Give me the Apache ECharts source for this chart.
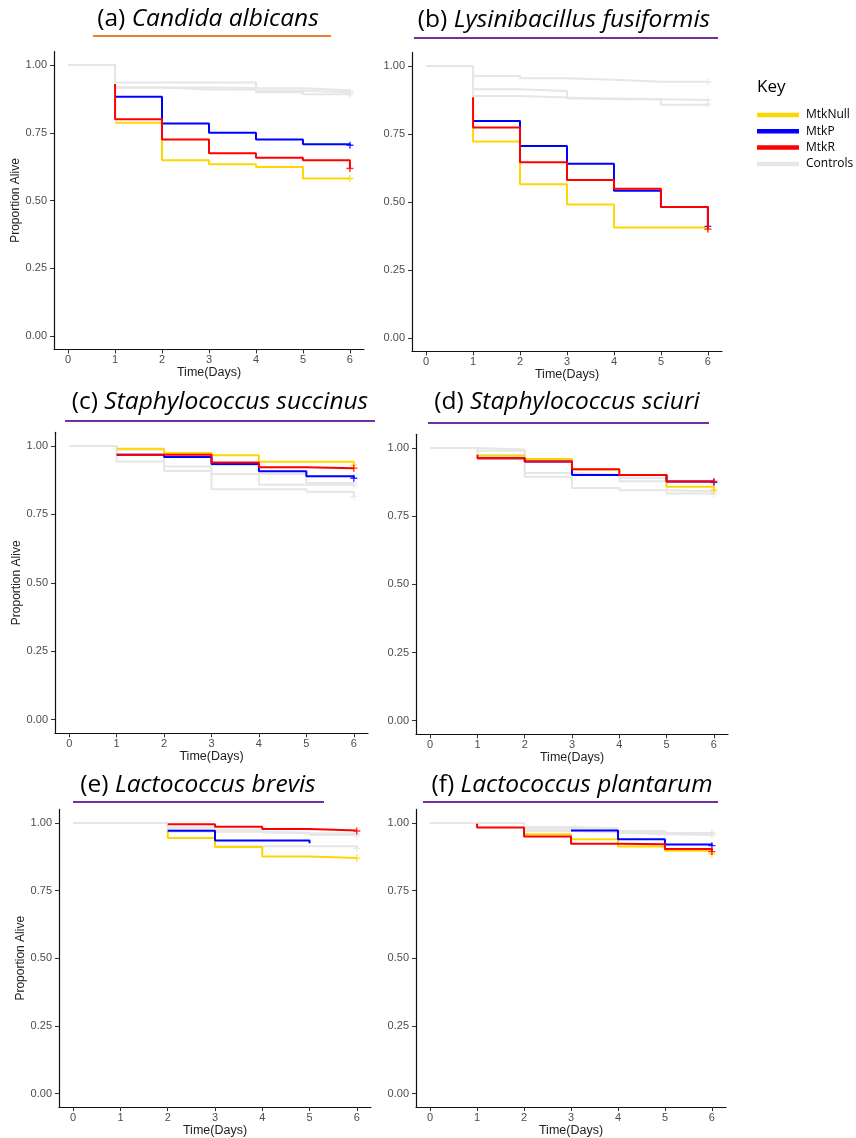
<!DOCTYPE html>
<html>
<head>
<meta charset="utf-8">
<script src="https://cdn.jsdelivr.net/npm/echarts@6/dist/echarts.min.js"></script>
<style>
html,body{margin:0;padding:0;background:#fff;}
#chart{width:856px;height:1138px;}
</style>
</head>
<body>
<div id="chart"></div>
<script>
// ---- tick labels ----
const X_TICKS = [0, 1, 2, 3, 4, 5, 6];
const Y_TICKS = [0, 0.25, 0.5, 0.75, 1];
const SERIES_NAMES = ['MtkNull', 'MtkP', 'MtkR', 'Controls'];

// ---- (a) Candida albicans : [time, proportion alive] ----
const A_NULL = [[1,0.787],[2,0.649],[3,0.634],[4,0.624],[5,0.581],[6,0.581]];
const A_P    = [[1,0.883],[2,0.784],[3,0.750],[4,0.725],[5,0.708],[6,0.704]];
const A_R    = [[1,0.930],[1,0.800],[2,0.725],[3,0.674],[4,0.658],[5,0.649],[6,0.618]];
const A_C1   = [[0,1],[1,0.936],[2,0.936],[3,0.936],[4,0.914],[5,0.907],[6,0.905]];
const A_C2   = [[0,1],[1,0.917],[2,0.910],[3,0.910],[4,0.900],[5,0.892],[6,0.890]];
const A_C3   = [[0,1],[1,0.917],[2,0.917],[3,0.915],[4,0.905],[5,0.900],[6,0.898]];

// ---- (b) Lysinibacillus fusiformis ----
const B_NULL = [[1,0.774],[1,0.722],[2,0.565],[3,0.490],[4,0.406],[5,0.406],[6,0.400]];
const B_P    = [[1,0.798],[2,0.706],[3,0.640],[4,0.541],[5,0.481],[6,0.410]];
const B_R    = [[1,0.885],[1,0.774],[2,0.646],[3,0.581],[4,0.548],[5,0.481],[6,0.400]];
const B_C1   = [[0,1],[1,0.963],[2,0.955],[3,0.949],[4,0.942],[5,0.942],[6,0.942]];
const B_C2   = [[0,1],[1,0.914],[2,0.908],[3,0.880],[4,0.878],[5,0.875],[6,0.875]];
const B_C3   = [[0,1],[1,0.890],[2,0.884],[3,0.878],[4,0.878],[5,0.857],[6,0.860]];

// ---- (c) Staphylococcus succinus ----
const C_NULL = [[1,0.990],[2,0.974],[3,0.966],[4,0.942],[5,0.942],[6,0.930]];
const C_P    = [[1,0.968],[2,0.960],[3,0.934],[4,0.908],[5,0.889],[6,0.882]];
const C_R    = [[1,0.968],[2,0.968],[3,0.940],[4,0.922],[5,0.919],[6,0.919]];
const C_C1   = [[0,1],[1,0.943],[2,0.925],[3,0.898],[4,0.898],[5,0.865],[6,0.865]];
const C_C2   = [[0,1],[1,0.985],[2,0.909],[3,0.842],[4,0.842],[5,0.833],[6,0.815]];
const C_C3   = [[0,1],[1,0.985],[2,0.960],[3,0.930],[4,0.858],[5,0.858],[6,0.855]];

// ---- (d) Staphylococcus sciuri ----
const D_NULL = [[1,0.971],[2,0.959],[3,0.922],[4,0.901],[5,0.858],[6,0.846]];
const D_P    = [[1,0.962],[2,0.950],[3,0.901],[4,0.901],[5,0.877],[6,0.874]];
const D_R    = [[1,0.975],[1,0.962],[2,0.950],[3,0.922],[4,0.901],[5,0.877],[6,0.877]];
const D_C1   = [[0,1],[1,0.994],[2,0.908],[3,0.902],[4,0.878],[5,0.878],[6,0.870]];
const D_C2   = [[0,1],[1,0.990],[2,0.894],[3,0.853],[4,0.845],[5,0.841],[6,0.840]];
const D_C3   = [[0,1],[1,0.975],[2,0.960],[3,0.920],[4,0.890],[5,0.833],[6,0.830]];

// ---- (e) Lactococcus brevis ----
const E_NULL = [[2,0.971],[2,0.944],[3,0.911],[4,0.876],[5,0.870],[6,0.870]];
const E_P    = [[2,0.971],[3,0.935],[4,0.935],[5,0.925]];
const E_R    = [[2,0.995],[3,0.986],[4,0.978],[5,0.972],[6,0.970]];
const E_C1   = [[0,1],[2,0.983],[3,0.975],[4,0.965],[5,0.955],[6,0.952]];
const E_C2   = [[0,1],[2,0.967],[3,0.914],[4,0.914],[5,0.914],[6,0.906]];
const E_C3   = [[0,1],[2,0.975],[3,0.967],[4,0.961],[5,0.961],[6,0.960]];

// ---- (f) Lactococcus plantarum ----
const F_NULL = [[2,0.958],[3,0.940],[4,0.913],[5,0.897],[6,0.885]];
const F_P    = [[3,0.972],[4,0.940],[5,0.920],[6,0.916]];
const F_R    = [[1,0.997],[1,0.983],[2,0.950],[3,0.923],[4,0.921],[5,0.904],[6,0.894]];
const F_C1   = [[0,1],[2,0.978],[3,0.975],[4,0.963],[5,0.963],[6,0.963]];
const F_C2   = [[0,1],[2,0.970],[3,0.965],[4,0.958],[5,0.955],[6,0.955]];
const F_C3   = [[0,1],[2,0.985],[3,0.980],[4,0.970],[5,0.960],[6,0.960]];

const TITLES = [
  ['(a) ', 'Candida albicans'],
  ['(b) ', 'Lysinibacillus fusiformis'],
  ['(c) ', 'Staphylococcus succinus'],
  ['(d) ', 'Staphylococcus sciuri'],
  ['(e) ', 'Lactococcus brevis'],
  ['(f) ', 'Lactococcus plantarum']
];

const COLORS = {MtkNull: '#FFD700', MtkP: '#0000FF', MtkR: '#FF0000', Controls: '#E6E6E6'};

// layout (pixel geometry of each panel)
const layout = [
  {left: 54,  top: 51.5,  width: 310, height: 298, yName: true,  tx: 208, ty: 19,  u1: 93,  u2: 331, uy: 36,  uc: '#ED7D31', censorP: true},
  {left: 412, top: 52.4,  width: 310, height: 299, yName: false, tx: 564, ty: 20,  u1: 414, u2: 718, uy: 38,  uc: '#7030A0', censorP: true},
  {left: 55,  top: 432.3, width: 313, height: 301, yName: true,  tx: 220, ty: 402, u1: 65,  u2: 375, uy: 421, uc: '#7030A0', censorP: true},
  {left: 416, top: 434.3, width: 312, height: 300, yName: false, tx: 567, ty: 402, u1: 428, u2: 709, uy: 423, uc: '#7030A0', censorP: true},
  {left: 59,  top: 809.4, width: 312, height: 299, yName: true,  tx: 198, ty: 785, u1: 73,  u2: 324, uy: 802, uc: '#7030A0', censorP: false},
  {left: 416, top: 809.4, width: 310, height: 299, yName: false, tx: 572, ty: 785, u1: 423, u2: 718, uy: 802, uc: '#7030A0', censorP: true}
];

const panelData = [
  {n: A_NULL, p: A_P, r: A_R, c: [A_C1, A_C2, A_C3]},
  {n: B_NULL, p: B_P, r: B_R, c: [B_C1, B_C2, B_C3]},
  {n: C_NULL, p: C_P, r: C_R, c: [C_C1, C_C2, C_C3]},
  {n: D_NULL, p: D_P, r: D_R, c: [D_C1, D_C2, D_C3]},
  {n: E_NULL, p: E_P, r: E_R, c: [E_C1, E_C2, E_C3]},
  {n: F_NULL, p: F_P, r: F_R, c: [F_C1, F_C2, F_C3]}
];

const PLUS = 'path://M4,0h2v4h4v2h-4v4h-2v-4h-4v-2h4z';
const AXIS_FONT = 'Liberation Sans';
const TITLE_SIZE = 24.5;

const grids = [], xAxes = [], yAxes = [], series = [], graphics = [];

function stepSeries(i, name, data, z) {
  return {
    type: 'line', name: name, xAxisIndex: i, yAxisIndex: i,
    step: 'end', data: data, symbol: 'none', z: z,
    color: COLORS[name],
    itemStyle: {color: COLORS[name]},
    lineStyle: {color: COLORS[name], width: 2},
    silent: true, animation: false
  };
}
function endMark(i, name, data, z) {
  return {
    type: 'scatter', xAxisIndex: i, yAxisIndex: i,
    data: [data[data.length - 1]], symbol: PLUS, symbolSize: 7, z: z,
    itemStyle: {color: COLORS[name]}, silent: true, animation: false
  };
}

layout.forEach((L, i) => {
  grids.push({left: L.left, top: L.top, width: L.width, height: L.height, containLabel: false});
  xAxes.push({
    type: 'value', gridIndex: i, min: -0.3, max: 6.3,
    name: 'Time(Days)', nameLocation: 'middle', nameGap: 15,
    nameTextStyle: {fontFamily: AXIS_FONT, fontSize: 12.5, color: '#222'},
    axisLine: {show: true, onZero: false, lineStyle: {color: '#111', width: 1.2}},
    axisTick: {show: true, length: 4, lineStyle: {color: '#333'}, customValues: X_TICKS},
    axisLabel: {fontFamily: AXIS_FONT, fontSize: 11, color: '#4d4d4d', margin: 5, customValues: X_TICKS},
    splitLine: {show: false}
  });
  yAxes.push({
    type: 'value', gridIndex: i, min: -0.05, max: 1.05,
    name: L.yName ? 'Proportion Alive' : '', nameLocation: 'middle', nameGap: 29,
    nameTextStyle: {fontFamily: AXIS_FONT, fontSize: 12, color: '#222'},
    axisLine: {show: true, onZero: false, lineStyle: {color: '#111', width: 1.2}},
    axisTick: {show: true, length: 4, lineStyle: {color: '#333'}, customValues: Y_TICKS},
    axisLabel: {fontFamily: AXIS_FONT, fontSize: 11, color: '#4d4d4d', margin: 7,
      customValues: Y_TICKS, formatter: v => v.toFixed(2)},
    splitLine: {show: false}
  });
  const d = panelData[i];
  d.c.forEach(c => {
    series.push(stepSeries(i, 'Controls', c, 1));
    series.push(endMark(i, 'Controls', c, 1));
  });
  series.push(stepSeries(i, 'MtkNull', d.n, 2));
  series.push(endMark(i, 'MtkNull', d.n, 2));
  series.push(stepSeries(i, 'MtkP', d.p, 3));
  if (L.censorP) series.push(endMark(i, 'MtkP', d.p, 3));
  series.push(stepSeries(i, 'MtkR', d.r, 4));
  series.push(endMark(i, 'MtkR', d.r, 4));

  graphics.push({
    type: 'text', silent: true,
    style: {
      text: '{n|' + TITLES[i][0] + '}{s|' + TITLES[i][1] + '}',
      x: L.tx, y: L.ty, align: 'center', verticalAlign: 'middle',
      rich: {
        n: {fontFamily: 'Open Sans', fontSize: TITLE_SIZE, fill: '#000'},
        s: {fontFamily: 'Open Sans', fontSize: TITLE_SIZE, fontStyle: 'italic', fill: '#000'}
      }
    }
  });
  graphics.push({
    type: 'line', silent: true,
    shape: {x1: L.u1, y1: L.uy, x2: L.u2, y2: L.uy},
    style: {stroke: L.uc, lineWidth: 2}
  });
});

graphics.push({
  type: 'text', silent: true,
  style: {text: 'Key', x: 757, y: 87, align: 'left', verticalAlign: 'middle',
    fontFamily: 'Open Sans', fontSize: 17, fill: '#000'}
});

const chart = echarts.init(document.getElementById('chart'), null, {renderer: 'canvas'});
chart.setOption({
  animation: false,
  backgroundColor: '#fff',
  grid: grids,
  xAxis: xAxes,
  yAxis: yAxes,
  legend: {
    data: SERIES_NAMES, orient: 'vertical', left: 757, top: 108.5, padding: 0,
    icon: 'rect', itemWidth: 42, itemHeight: 4.5, itemGap: 3.3,
    selectedMode: false,
    textStyle: {fontFamily: 'Open Sans', fontSize: 12, color: '#000', lineHeight: 13, padding: [0, 0, 0, 2]}
  },
  graphic: graphics,
  series: series
});
</script>
</body>
</html>
